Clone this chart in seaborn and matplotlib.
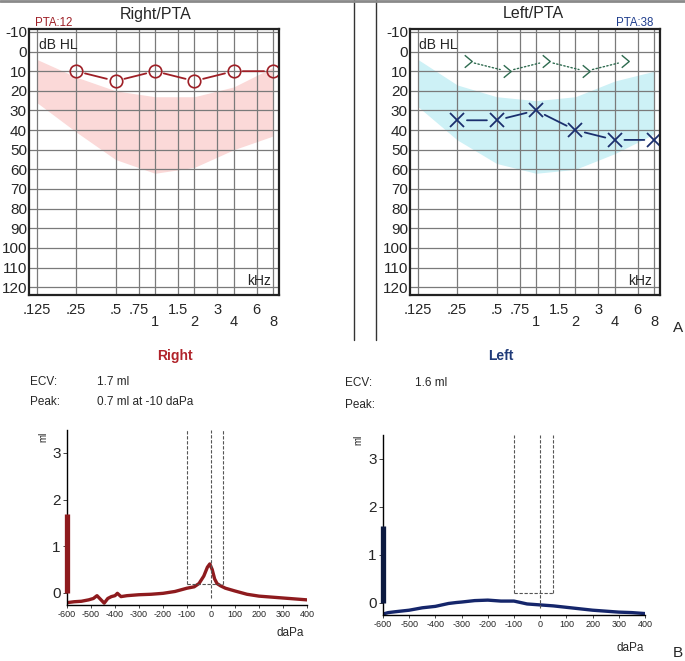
import numpy as np
import matplotlib.pyplot as plt
import seaborn as sns
from matplotlib.lines import Line2D

# audiogram values (kHz / dB HL)
freqs = [0.25, 0.5, 1, 2, 4, 8]
right_air = [10, 15, 10, 15, 10, 10]
left_air = [35, 35, 30, 40, 45, 45]
bone_freqs = [0.3, 0.6, 1.2, 2.4, 4.8]
left_bone = [5, 10, 5, 10, 5]

# speech banana
band_freqs = [0.125, 0.25, 0.5, 1, 2, 4, 8]
right_band_top = [4, 13, 20, 23, 23, 18, 8]
right_band_bottom = [26, 41, 55, 62, 59, 50, 43]
left_band_top = [4, 17, 23, 25, 23, 15, 10]
left_band_bottom = [28, 45, 57, 62, 60, 52, 42]

major_freqs = [0.125, 0.25, 0.5, 0.75, 1.5, 3, 6]
major_labels = ['.125', '.25', '.5', '.75', '1.5', '3', '6']
minor_freqs = [1, 2, 4, 8]
minor_labels = ['1', '2', '4', '8']
db_ticks = list(range(-10, 130, 10))

# tympanograms (daPa / ml)
right_pressure = [-600, -570, -540, -510, -490, -475, -460, -445, -430, -415, -400, -390,
                  -375, -350, -300, -250, -200, -150, -100, -70, -50, -30, -15, -5, 5, 15,
                  25, 40, 60, 100, 150, 200, 250, 300, 350, 400]
right_ml = [-0.21, -0.19, -0.18, -0.15, -0.12, -0.06, -0.14, -0.22, -0.12, -0.08, -0.06, -0.01,
            -0.08, -0.06, -0.04, -0.03, -0.01, 0.03, 0.10, 0.13, 0.20, 0.36, 0.55, 0.62, 0.50, 0.30,
            0.20, 0.15, 0.10, 0.04, -0.03, -0.07, -0.09, -0.11, -0.13, -0.15]
left_pressure = [-600, -580, -550, -500, -450, -400, -350, -320, -300, -250, -200, -150, -100,
                 -50, 0, 50, 100, 150, 200, 250, 300, 350, 400]
left_ml = [-0.24, -0.21, -0.19, -0.16, -0.11, -0.08, -0.02, 0.0, 0.01, 0.04, 0.05, 0.03, 0.03,
           -0.03, -0.05, -0.07, -0.10, -0.13, -0.16, -0.18, -0.20, -0.21, -0.23]
right_ecv = 1.7
left_ecv = 1.6
box_pressure = [-100, 50]
box_ml = 0.2
daPa_ticks = list(range(-600, 500, 100))

RED = '#9e1f26'
BLUE = '#1b2f6e'
GREEN = '#2e6b4f'

sns.set_style('white')
plt.rcParams['font.family'] = ['Liberation Sans', 'DejaVu Sans']
plt.rcParams['axes.unicode_minus'] = False

W, H = 685, 661
fig = plt.figure(figsize=(W / 100, H / 100), dpi=100)


def px_rect(x0, y0, x1, y1):
    return [x0 / W, 1 - y1 / H, (x1 - x0) / W, (y1 - y0) / H]


def ftext(x, y, s, **kw):
    kw.setdefault('va', 'center')
    fig.text(x / W, 1 - y / H, s, **kw)


def gapped_line(ax, xs, ys, color, ls='-', lw=1.3, gap=6.5):
    for i in range(len(xs) - 1):
        ax.annotate('', xy=(xs[i + 1], ys[i + 1]), xytext=(xs[i], ys[i]),
                    arrowprops=dict(arrowstyle='-', color=color, lw=lw, ls=ls,
                                    shrinkA=gap, shrinkB=gap))


def audiogram(ax, top, bottom, band_color):
    ax.set_xscale('log', base=2)
    ax.set_xlim(0.125 * 2 ** -0.2, 8 * 2 ** 0.15)
    ax.set_ylim(124, -11.5)
    ax.fill_between(band_freqs, top, bottom, color=band_color, lw=0, zorder=0)
    ax.set_xticks(major_freqs)
    ax.set_xticklabels(major_labels)
    ax.set_xticks(minor_freqs, minor=True)
    ax.set_xticklabels(minor_labels, minor=True)
    ax.set_yticks(db_ticks)
    ax.grid(True, which='both', color='#7a7a7a', lw=0.9)
    ax.set_axisbelow(True)
    ax.tick_params(axis='x', which='major', length=0, pad=5.5, labelsize=10.5)
    ax.tick_params(axis='x', which='minor', length=0, pad=14.5, labelsize=10.5)
    ax.tick_params(axis='y', length=0, pad=1.5, labelsize=11)
    for s in ax.spines.values():
        s.set_color('#222222')
        s.set_linewidth(1.6)


def tympanogram(ax, p, ml, ecv, color, bar_color):
    ax.set_facecolor('none')
    ax.set_xlim(-600, 400)
    ax.set_ylim(-0.26, 3.49)
    sns.lineplot(x=p, y=ml, ax=ax, color=color, lw=2.4, sort=False)
    ax.vlines(-600, 0, ecv, color=bar_color, lw=3.8, clip_on=False, zorder=5)
    dash = dict(color='#555555', lw=0.8, linestyles=(0, (3, 1.5)))
    ax.vlines(box_pressure, box_ml, 3.49, **dash)
    ax.hlines(box_ml, box_pressure[0], box_pressure[1], **dash)
    ax.vlines(0, -0.12, 3.49, **dash)
    ax.set_xticks(daPa_ticks)
    ax.set_yticks([0, 1, 2, 3])
    ax.tick_params(axis='x', length=2, width=0.6, pad=1.5, labelsize=6.5, bottom=True)
    ax.tick_params(axis='y', length=3, width=0.6, pad=1.5, labelsize=11, left=True)
    sns.despine(ax=ax)
    for s in ['left', 'bottom']:
        ax.spines[s].set_color('black')
        ax.spines[s].set_linewidth(1.0)


# --- audiogram right ear
ax1 = fig.add_axes(px_rect(29, 29, 279, 295))
audiogram(ax1, right_band_top, right_band_bottom, '#fbd9d8')
gapped_line(ax1, freqs, right_air, RED)
sns.lineplot(x=freqs, y=right_air, ax=ax1, marker='o', linestyle='', markersize=9,
             markerfacecolor='none', markeredgecolor=RED, markeredgewidth=1.2, color=RED)
ftext(156, 14, 'Right/PTA', ha='center', fontsize=11.5)
ftext(35, 22.5, 'PTA:12', color=RED, fontsize=8.3)
ftext(39, 45, 'dB HL', fontsize=10)
ftext(247, 281, 'kHz', fontsize=10)

# --- audiogram left ear
ax2 = fig.add_axes(px_rect(410, 29, 660, 295))
audiogram(ax2, left_band_top, left_band_bottom, '#cdf1f6')
gapped_line(ax2, bone_freqs, left_bone, GREEN, ls=':', lw=1.0, gap=5)
chevron = [(-0.6, 1), (0.6, 0), (-0.6, -1)]
sns.lineplot(x=bone_freqs, y=left_bone, ax=ax2, marker=chevron, linestyle='', markersize=9,
             markerfacecolor='none', markeredgecolor=GREEN, markeredgewidth=1.0, color=GREEN)
gapped_line(ax2, freqs, left_air, BLUE, gap=7)
sns.lineplot(x=freqs, y=left_air, ax=ax2, marker='x', linestyle='', markersize=10,
             markeredgecolor=BLUE, markeredgewidth=1.3, color=BLUE)
ftext(533, 14, 'Left/PTA', ha='center', fontsize=11.5)
ftext(653, 22.5, 'PTA:38', ha='right', color='#1f3d8c', fontsize=8.3)
ftext(419, 45, 'dB HL', fontsize=10)
ftext(628, 281, 'kHz', fontsize=10)
ftext(678, 328, 'A', ha='center', fontsize=11)

# frame lines of the printout
for x in [354, 376]:
    fig.add_artist(Line2D([x / W, x / W], [1, 1 - 340 / H], color='#333333', lw=1.0))
fig.add_artist(Line2D([0, 1], [1 - 1 / H, 1 - 1 / H], color='#8a8a8a', lw=2.0))

# --- tympanogram right ear
ax3 = fig.add_axes(px_rect(67, 430, 307, 605))
tympanogram(ax3, right_pressure, right_ml, right_ecv, '#8e1b1e', '#8e1b1e')
ftext(175, 356, 'Right', ha='center', fontsize=10, fontweight='bold', color='#b0232a')
ftext(30, 382, 'ECV:', fontsize=8.5)
ftext(97, 382, '1.7 ml', fontsize=8.5)
ftext(30, 402, 'Peak:', fontsize=8.5)
ftext(97, 402, '0.7 ml at -10 daPa', fontsize=8.5)
ftext(43, 437, 'ml', ha='center', rotation=90, fontsize=7)
ftext(290, 633, 'daPa', ha='center', fontsize=8.5)

# --- tympanogram left ear
ax4 = fig.add_axes(px_rect(383, 435, 645, 615))
tympanogram(ax4, left_pressure, left_ml, left_ecv, '#15266b', '#0c1a40')
ftext(501, 356, 'Left', ha='center', fontsize=10, fontweight='bold', color='#1f3a78')
ftext(345, 383, 'ECV:', fontsize=8.5)
ftext(415, 383, '1.6 ml', fontsize=8.5)
ftext(345, 405, 'Peak:', fontsize=8.5)
ftext(358, 440, 'ml', ha='center', rotation=90, fontsize=7)
ftext(630, 648, 'daPa', ha='center', fontsize=8.5)
ftext(678, 653, 'B', ha='center', fontsize=11)

fig.savefig('out.png', dpi=100)
